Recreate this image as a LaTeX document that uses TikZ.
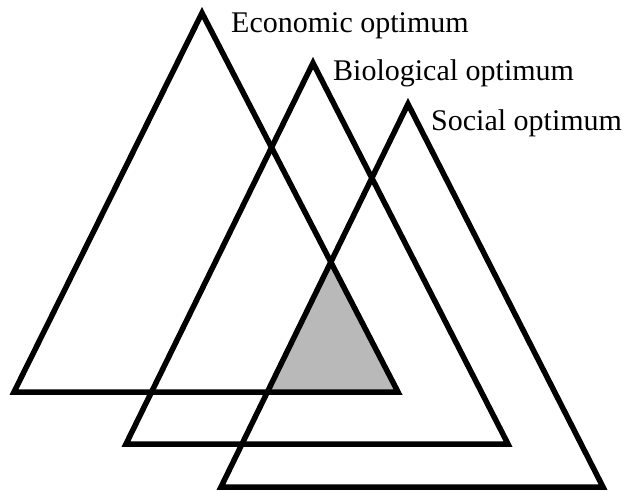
\documentclass[tikz,border=0pt]{standalone}
\usepackage{fontspec}
\setmainfont{Liberation Serif}
\begin{document}
\begin{tikzpicture}[x=1pt,y=-1pt,
  tri/.style={draw=black,line width=5.5pt,line join=miter,miter limit=3},
  lbl/.style={anchor=base west,inner sep=0pt,font=\fontsize{30}{34}\selectfont}]
\useasboundingbox (0,0) rectangle (630,492);
% Economic
\coordinate (A1) at (202,13);
\coordinate (B1) at (14,392);
\coordinate (C1) at (398,392);
% Biological
\coordinate (A2) at (313,63);
\coordinate (B2) at (126,444);
\coordinate (C2) at (508,444);
% Social
\coordinate (A3) at (408,104);
\coordinate (B3) at (221,487);
\coordinate (C3) at (603,487);
% shaded intersection
\coordinate (S1) at (intersection of A1--C1 and A3--B3);
\coordinate (S2) at (intersection of B1--C1 and A3--B3);
\fill[gray!55] (S1) -- (S2) -- (C1) -- cycle;
\draw[tri] (A1) -- (B1) -- (C1) -- cycle;
\draw[tri] (A2) -- (B2) -- (C2) -- cycle;
\draw[tri] (A3) -- (B3) -- (C3) -- cycle;
\node[lbl] (econ) at (231,33) {Economic optimum};
\node[lbl] (bio) at (333,81) {Biological optimum};
\node[lbl] (soc) at (431,131) {Social optimum};
\end{tikzpicture}
\end{document}
